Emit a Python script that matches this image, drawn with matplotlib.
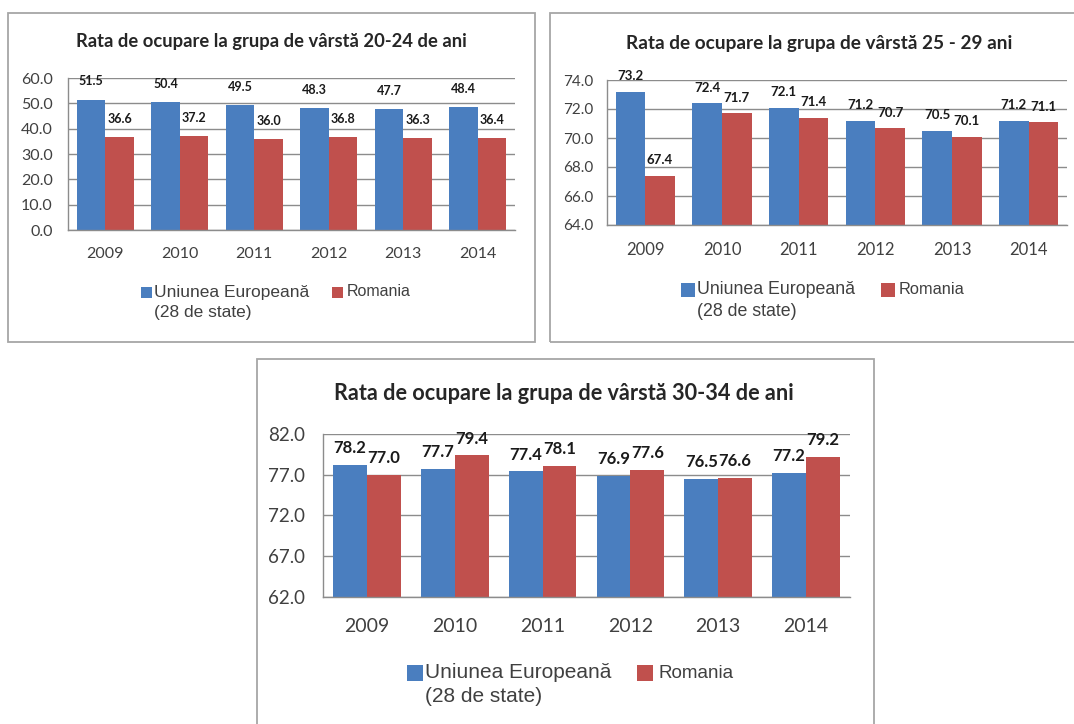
import matplotlib
matplotlib.use("Agg")
import matplotlib.pyplot as plt
from matplotlib.patches import Rectangle

years = ["2009", "2010", "2011", "2012", "2013", "2014"]

eu_20_24 = [51.5, 50.4, 49.5, 48.3, 47.7, 48.4]
ro_20_24 = [36.6, 37.2, 36.0, 36.8, 36.3, 36.4]

eu_25_29 = [73.2, 72.4, 72.1, 71.2, 70.5, 71.2]
ro_25_29 = [67.4, 71.7, 71.4, 70.7, 70.1, 71.1]

eu_30_34 = [78.2, 77.7, 77.4, 76.9, 76.5, 77.2]
ro_30_34 = [77.0, 79.4, 78.1, 77.6, 76.6, 79.2]

titles = [
    "Rata de ocupare la grupa de vârstă 20-24 de ani",
    "Rata de ocupare la grupa de vârstă 25 - 29 ani",
    "Rata de ocupare la grupa de vârstă 30-34 de ani",
]
eu_label = "Uniunea Europeană\n(28 de state)"
ro_label = "Romania"

BLUE = "#4a7ebf"
RED = "#c0504d"
GRID = "#8c8c8c"
BORDER = "#a6a6a6"
TXT = "#404040"
FONT = ["Lato", "DejaVu Sans"]
LEG_FONT = ["Liberation Sans", "DejaVu Sans"]

W, H = 1074, 724
fig = plt.figure(figsize=(W / 100, H / 100), dpi=100)


def fx(px):
    return px / W


def fy(py):
    return 1 - py / H


def box(x0, y0, x1, y1):
    fig.add_artist(Rectangle((fx(x0), fy(y1)), fx(x1 - x0), (y1 - y0) / H,
                             transform=fig.transFigure, fill=False,
                             ec=BORDER, lw=1.3))


def legend(sq_x, y1, y2, sq, txt_x, rsq_x, rtxt_x, eu_fs, ro_fs):
    for x, c in ((sq_x, BLUE), (rsq_x, RED)):
        fig.add_artist(Rectangle((fx(x), fy(y1 + sq / 2)), fx(sq), sq / H,
                                 transform=fig.transFigure, fc=c, ec="none"))
    first, second = eu_label.split("\n")
    fig.text(fx(txt_x), fy(y1), first, family=LEG_FONT, fontsize=eu_fs,
             color=TXT, va="center", ha="left")
    fig.text(fx(txt_x), fy(y2), second, family=LEG_FONT, fontsize=eu_fs,
             color=TXT, va="center", ha="left")
    fig.text(fx(rtxt_x), fy(y1), ro_label, family=LEG_FONT, fontsize=ro_fs,
             color=TXT, va="center", ha="left")


def panel(ax_px, eu, ro, ylim, step, title, title_xy, title_fs,
          ytick_fs, ytick_pad, xtick_fs, xtick_pad, lab_fs, lab_off):
    x0, y0, x1, y1 = ax_px
    ax = fig.add_axes([fx(x0), fy(y1), fx(x1 - x0), (y1 - y0) / H])
    w = 0.385
    pos = list(range(len(years)))
    b1 = ax.bar([p - w / 2 for p in pos], eu, w, color=BLUE, zorder=2)
    b2 = ax.bar([p + w / 2 for p in pos], ro, w, color=RED, zorder=2)
    for bars in (b1, b2):
        for rect in bars:
            v = rect.get_height() + rect.get_y()
            ax.annotate(f"{v:.1f}", (rect.get_x() + rect.get_width() / 2, v),
                        xytext=(0, lab_off), textcoords="offset points",
                        ha="center", va="center", fontsize=lab_fs,
                        fontweight="bold", family=FONT, color="#1a1a1a",
                        zorder=3)
    ax.set_xlim(-0.5, len(years) - 0.5)
    ax.set_ylim(*ylim)
    ticks = [ylim[0] + i * step for i in range(int(round((ylim[1] - ylim[0]) / step)) + 1)]
    ax.set_yticks(ticks)
    ax.set_yticklabels([f"{t:.1f}" for t in ticks], family=FONT,
                       fontsize=ytick_fs, color=TXT)
    ax.set_xticks(pos)
    ax.set_xticklabels(years, family=FONT, fontsize=xtick_fs, color=TXT)
    ax.tick_params(axis="y", length=0, pad=ytick_pad)
    ax.tick_params(axis="x", length=0, pad=xtick_pad)
    ax.yaxis.grid(True, color=GRID, lw=1.0, zorder=0)
    ax.set_axisbelow(True)
    for s in ("top", "right"):
        ax.spines[s].set_visible(False)
    for s in ("left", "bottom"):
        ax.spines[s].set_color(GRID)
        ax.spines[s].set_linewidth(1.0)
    ax.patch.set_alpha(0)
    fig.text(fx(title_xy[0]), fy(title_xy[1]), title, family=FONT,
             fontsize=title_fs, fontweight="bold", color="#262626",
             ha="center", va="center")
    return ax


# panel frames
box(8, 13, 535, 342)
box(550, 13, 1085, 342)
box(257, 359, 874, 735)

panel((68, 78, 515, 230), eu_20_24, ro_20_24, (0, 60), 10, titles[0],
      (271, 42), 13.2, 11.5, 11, 11.5, 12, 9, 13)
legend(141, 292, 313, 11, 154, 332, 347, 12.5, 11.5)

panel((607, 80, 1067, 225), eu_25_29, ro_25_29, (64, 74), 2, titles[1],
      (819, 43), 13.7, 11, 10, 12, 12, 9.5, 11)
legend(681, 290, 312, 14, 697, 881, 899, 12.8, 11.8)

panel((323, 434, 850, 597), eu_30_34, ro_30_34, (62, 82), 5, titles[2],
      (564, 393), 15.6, 13.5, 13, 14, 15, 12, 12)
legend(407, 673, 697, 16, 425, 637, 658, 15, 13.5)

fig.savefig("out.png", dpi=100)
